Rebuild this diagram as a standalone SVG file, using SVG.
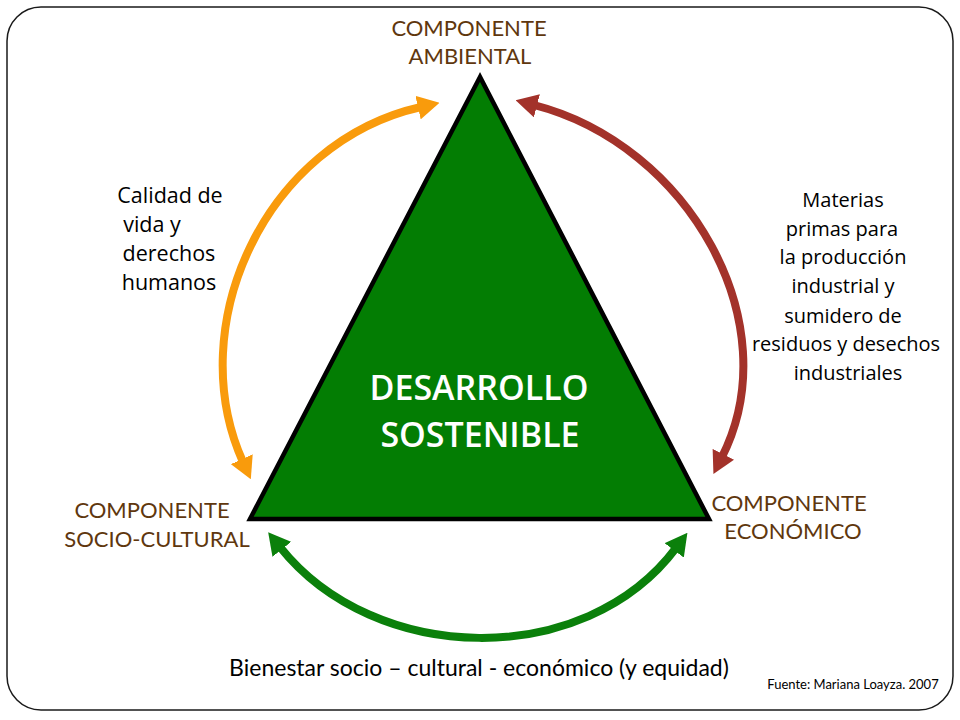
<svg xmlns="http://www.w3.org/2000/svg" width="960" height="720" viewBox="0 0 960 720">
  <style>
    .comp { font-family: Lato, "Open Sans", sans-serif; font-size: 22px; fill: #5f370e; text-anchor: middle; }
    .main { font-family: "Open Sans", Lato, sans-serif; font-size: 34px; font-weight: 600; fill: #ffffff; text-anchor: middle; }
    .note { font-family: "Open Sans", Lato, sans-serif; font-size: 20px; fill: #000000; text-anchor: middle; }
    .noteL { font-family: "Open Sans", Lato, sans-serif; font-size: 21.5px; fill: #000000; text-anchor: middle; }
    .bottom { font-family: Lato, "Open Sans", sans-serif; font-size: 23px; fill: #000000; text-anchor: middle; }
    .src { font-family: Lato, "Open Sans", sans-serif; font-size: 13px; fill: #000000; text-anchor: middle; }
    .arc { fill: none; stroke-width: 8; }
  </style>
  <defs>
    <marker id="headOrange" viewBox="0 0 22 24" markerWidth="22" markerHeight="24" refX="3" refY="12" markerUnits="userSpaceOnUse" orient="auto-start-reverse">
      <path d="M0,0 L22,12 L0,24 z" fill="#f99b0c"/>
    </marker>
    <marker id="headRed" viewBox="0 0 22 24" markerWidth="22" markerHeight="24" refX="3" refY="12" markerUnits="userSpaceOnUse" orient="auto-start-reverse">
      <path d="M0,0 L22,12 L0,24 z" fill="#a3322a"/>
    </marker>
    <marker id="headGreen" viewBox="0 0 22 24" markerWidth="22" markerHeight="24" refX="3" refY="12" markerUnits="userSpaceOnUse" orient="auto-start-reverse">
      <path d="M0,0 L22,12 L0,24 z" fill="#0b800b"/>
    </marker>
  </defs>

  <rect id="frame" x="7" y="7" width="946" height="703" rx="34" ry="34" fill="#ffffff" stroke="#1a1a1a" stroke-width="1.5"/>

  <g id="connectors">
    <path id="arc-social-ambiental" class="arc" stroke="#f99b0c" d="M243,462 C181.5,325.5 265,142 421,107" marker-start="url(#headOrange)" marker-end="url(#headOrange)"/>
    <path id="arc-ambiental-economico" class="arc" stroke="#a3322a" d="M534,105 C689,145 789.5,323.5 722,457" marker-start="url(#headRed)" marker-end="url(#headRed)"/>
    <path id="arc-social-economico" class="arc" stroke="#0b800b" d="M280,547 C374.7,666 584.4,670 676,548" marker-start="url(#headGreen)" marker-end="url(#headGreen)"/>
  </g>

  <g id="desarrollo-sostenible">
    <polygon points="480,77 250,519 709,519" fill="#037d03" stroke="#000000" stroke-width="4.5" stroke-linejoin="miter"/>
    <text class="main" x="479" y="400">DESARROLLO</text>
    <text class="main" x="480" y="447">SOSTENIBLE</text>
  </g>

  <g id="componente-ambiental">
    <text class="comp" x="469" y="36">COMPONENTE</text>
    <text class="comp" x="470" y="64">AMBIENTAL</text>
  </g>

  <g id="componente-socio-cultural">
    <text class="comp" x="152" y="518">COMPONENTE</text>
    <text class="comp" x="157" y="547">SOCIO-CULTURAL</text>
  </g>

  <g id="componente-economico">
    <text class="comp" x="789" y="511">COMPONENTE</text>
    <text class="comp" x="793" y="539">ECONÓMICO</text>
  </g>

  <g id="label-calidad">
    <text class="noteL" x="170" y="203">Calidad de</text>
    <text class="noteL" x="152" y="232">vida y</text>
    <text class="noteL" x="169" y="261">derechos</text>
    <text class="noteL" x="169" y="290">humanos</text>
  </g>

  <g id="label-materias">
    <text class="note" x="843" y="207">Materias</text>
    <text class="note" x="842" y="236">primas para</text>
    <text class="note" x="843" y="264">la producción</text>
    <text class="note" x="843" y="293">industrial y</text>
    <text class="note" x="843" y="323">sumidero de</text>
    <text class="note" x="846" y="351">residuos y desechos</text>
    <text class="note" x="848" y="380">industriales</text>
  </g>

  <g id="label-bienestar">
    <text class="bottom" x="479" y="676">Bienestar socio – cultural - económico (y equidad)</text>
  </g>

  <g id="fuente">
    <text class="src" x="853" y="689">Fuente: Mariana Loayza. 2007</text>
  </g>
</svg>
